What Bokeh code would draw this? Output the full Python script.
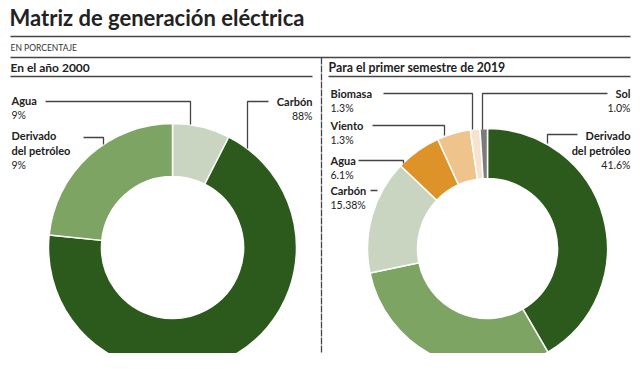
import numpy as np
from bokeh.plotting import figure
from bokeh.models import Range1d, ColumnDataSource
from bokeh.core.properties import value
from bokeh.embed import file_html
from bokeh.resources import INLINE

# ---------------- data ----------------
title = "Matriz de generación eléctrica"
subtitle = "EN PORCENTAJE"
panel_titles = ["En el año 2000", "Para el primer semestre de 2019"]

# 2000 (clockwise from 12 o'clock)
cats_2000 = ["Agua", "Carbón", "Derivado del petróleo"]
shares_2000 = [7.5, 69.1, 23.4]
labels_2000 = ["9%", "88%", "9%"]
colors_2000 = ["#c9d5c1", "#2c5a1c", "#7ea463"]

# 2019 (clockwise from 12 o'clock)
cats_2019 = ["Derivado del petróleo", "Gas", "Carbón", "Agua", "Viento", "Biomasa", "Sol"]
shares_2019 = [41.6, 30.1, 15.38, 6.1, 4.5, 1.3, 1.0]
labels_2019 = ["41.6%", "", "15.38%", "6.1%", "1.3%", "1.3%", "1.0%"]
colors_2019 = ["#2c5a1c", "#7ea463", "#c9d5c1", "#de9328", "#eec48c", "#f6e2cf", "#7b7b7b"]

FONT = "Lato"
TXT = "#222222"
LINE = "#444444"

W, H = 640, 353


def X(px):
    return px


def Y(py):
    return H - py


p = figure(width=W, height=H, output_backend="svg", toolbar_location=None,
           x_range=Range1d(0, W), y_range=Range1d(0, H),
           x_axis_type=None, y_axis_type=None, min_border=0)
p.outline_line_color = None
p.grid.visible = False
p.background_fill_color = "white"


def donut(cx, cy, r_in, r_out, shares, colors):
    s = np.array(shares, dtype=float)
    frac = s / s.sum()
    cum = np.concatenate([[0], np.cumsum(frac)])
    start = np.pi / 2 - cum[1:] * 2 * np.pi
    end = np.pi / 2 - cum[:-1] * 2 * np.pi
    src = ColumnDataSource(dict(start=start, end=end, color=colors))
    p.annular_wedge(x=X(cx), y=Y(cy), inner_radius=r_in, outer_radius=r_out,
                    start_angle="start", end_angle="end", direction="anticlock",
                    fill_color="color", line_color="white", line_width=1.5,
                    source=src)


donut(172, 247, 71, 124, shares_2000, colors_2000)
donut(487, 248, 70, 120, shares_2019, colors_2019)

# header rules
p.segment(x0=[X(10), X(10), X(10), X(328)], y0=[Y(36), Y(57), Y(76), Y(76)],
          x1=[X(630), X(630), X(312), X(630)], y1=[Y(36), Y(57), Y(76), Y(76)],
          line_color=LINE, line_width=1.7)
# vertical divider
p.segment(x0=[X(321)], y0=[Y(57)], x1=[X(321)], y1=[Y(353)],
          line_color=LINE, line_width=1.3, line_dash="7 1")

# leader lines
xs = [
    [X(45), X(190), X(190)],
    [X(83), X(103), X(103)],
    [X(268), X(247), X(247)],
    [X(383), X(472), X(472)],
    [X(607), X(482), X(482)],
    [X(372), X(444), X(444)],
    [X(358), X(403), X(403)],
    [X(370), X(377)],
    [X(577), X(547), X(547)],
]
ys = [
    [Y(101), Y(101), Y(124)],
    [Y(137), Y(137), Y(144)],
    [Y(101), Y(101), Y(148)],
    [Y(93), Y(93), Y(129)],
    [Y(93), Y(93), Y(129)],
    [Y(125), Y(125), Y(135)],
    [Y(160), Y(160), Y(163)],
    [Y(190), Y(190)],
    [Y(134), Y(134), Y(143)],
]
p.multi_line(xs=xs, ys=ys, line_color=LINE, line_width=1.3)


def txt(x, y, s, size, bold=False, align="left", color=TXT, font=FONT):
    p.text(x=[X(x)], y=[Y(y)], text=[s], text_font=value(font),
           text_font_size=f"{size}px", text_font_style="bold" if bold else "normal",
           text_align=align, text_baseline="middle", text_color=color)


# titles
txt(9, 17, title, 22, bold=True, color="#222222")
txt(10, 47, subtitle, 8.5, color="#333333")
txt(10, 67, panel_titles[0], 12, bold=True)
txt(328, 67, panel_titles[1], 12.3, bold=True)

# 2000 labels
txt(11, 100, cats_2000[0], 11, bold=True)
txt(11, 114, labels_2000[0], 10.5)
txt(11, 135, "Derivado", 11, bold=True)
txt(11, 150, "del petróleo", 11, bold=True)
txt(11, 164, labels_2000[2], 10.5)
txt(312, 101, cats_2000[1], 11, bold=True, align="right")
txt(312, 115, labels_2000[1], 10.5, align="right")

# 2019 labels
txt(330, 93, cats_2019[5], 11, bold=True)
txt(330, 107, labels_2019[5], 10.5)
txt(330, 125, cats_2019[4], 11, bold=True)
txt(330, 139, labels_2019[4], 10.5)
txt(330, 160, cats_2019[3], 11, bold=True)
txt(330, 174, labels_2019[3], 10.5)
txt(330, 190, cats_2019[2], 11, bold=True)
txt(330, 204, labels_2019[2], 10.5)
txt(630, 93, cats_2019[6], 11, bold=True, align="right")
txt(630, 107, labels_2019[6], 10.5, align="right")
txt(630, 135, "Derivado", 11, bold=True, align="right")
txt(630, 150, "del petróleo", 11, bold=True, align="right")
txt(630, 164, labels_2019[0], 10.5, align="right")

open("out.html", "w").write(file_html(p, INLINE))
